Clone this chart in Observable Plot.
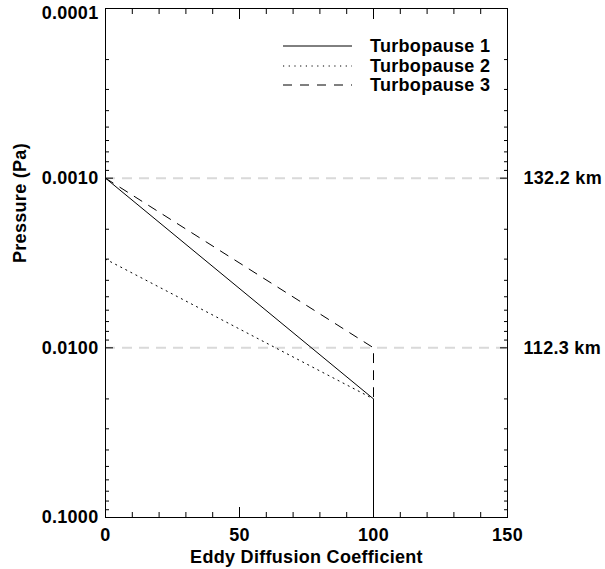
<!DOCTYPE html>
<html><head><meta charset="utf-8">
<script src="https://cdn.jsdelivr.net/npm/d3@7"></script>
<script src="https://cdn.jsdelivr.net/npm/@observablehq/plot@0.6"></script>
<style>
html,body{margin:0;padding:0;background:#fff;}
#wrap{position:relative;width:605px;height:569px;font-family:"Liberation Sans",Arial,Helvetica,sans-serif;font-weight:bold;}
#legend{position:absolute;left:0;top:0;pointer-events:none;}
</style></head><body><div id="wrap"></div>
<script>
// ---- data ----
const seriesNames = ["Turbopause 1", "Turbopause 2", "Turbopause 3"];
const coeff1 = [0, 100, 100];
const pres1 = [0.001, 0.02, 0.1];
const coeff2 = [0, 100, 100];
const pres2 = [0.003, 0.02, 0.1];
const coeff3 = [0, 100, 100];
const pres3 = [0.001, 0.01, 0.1];
const refPressures = [0.001, 0.01];
const refLabels = ["132.2 km", "112.3 km"];
const xMajorTicks = [0, 50, 100, 150];
const xMinorTicks = [10, 20, 30, 40, 60, 70, 80, 90, 110, 120, 130, 140];
const yMajorTicks = [0.0001, 0.001, 0.01, 0.1];
const yMajorLabels = ["0.0001", "0.0010", "0.0100", "0.1000"];
const yMinorTicks = [0.0002, 0.0003, 0.0004, 0.0005, 0.0006, 0.0007, 0.0008, 0.0009,
                     0.002, 0.003, 0.004, 0.005, 0.006, 0.007, 0.008, 0.009,
                     0.02, 0.03, 0.04, 0.05, 0.06, 0.07, 0.08, 0.09];
const xTitle = "Eddy Diffusion Coefficient";
const yTitle = "Pressure (Pa)";

// ---- build ----
const seriesData = [[coeff1, pres1], [coeff2, pres2], [coeff3, pres3]];
const rows = [];
seriesData.forEach(([c, p], i) => c.forEach((x, j) => rows.push({series: seriesNames[i], x, p: p[j]})));
const dashes = [null, "1.2,4.5", "9,8"];

const lineMarks = seriesNames.map((name, i) =>
  Plot.line(rows.filter(d => d.series === name), {x: "x", y: "p", stroke: "black", strokeWidth: 1, strokeDasharray: dashes[i]})
);
const yLabelMap = new Map(yMajorTicks.map((t, i) => [t, yMajorLabels[i]]));
const fontFam = '"Liberation Sans", Arial, Helvetica, sans-serif';

const plot = Plot.plot({
  width: 605, height: 569,
  marginLeft: 105, marginRight: 98, marginTop: 8, marginBottom: 52,
  style: {fontFamily: fontFam, fontWeight: "bold", fontSize: "18px", letterSpacing: "0.3px", color: "black", background: "white", overflow: "visible"},
  x: {domain: [0, 150]},
  y: {type: "log", domain: [1e-4, 1e-1], reverse: true},
  marks: [
    Plot.ruleY(refPressures, {stroke: "#d9d9d9", strokeWidth: 2, strokeDasharray: "10,7"}),
    ...lineMarks,
    Plot.frame({stroke: "black", strokeWidth: 1}),
    // x ticks (inward) bottom and top
    Plot.axisX(xMajorTicks, {anchor: "bottom", tickSize: -10, tickFormat: () => "", label: null}),
    Plot.axisX(xMinorTicks, {anchor: "bottom", tickSize: -5, tickFormat: () => "", label: null}),
    Plot.axisX(xMajorTicks, {anchor: "top", tickSize: -10, tickFormat: () => "", label: null}),
    Plot.axisX(xMinorTicks, {anchor: "top", tickSize: -5, tickFormat: () => "", label: null}),
    // x tick labels
    Plot.axisX(xMajorTicks, {anchor: "bottom", tickSize: 0, tickPadding: 11, tickFormat: d => String(d), label: null}),
    // y ticks (inward) left and right
    Plot.axisY(yMajorTicks, {anchor: "left", tickSize: -8, tickFormat: () => "", label: null}),
    Plot.axisY(yMinorTicks, {anchor: "left", tickSize: -4, tickFormat: () => "", label: null}),
    Plot.axisY(yMajorTicks, {anchor: "right", tickSize: -8, tickFormat: () => "", label: null}),
    Plot.axisY(yMinorTicks, {anchor: "right", tickSize: -4, tickFormat: () => "", label: null}),
    // y tick labels (top one nudged down like the reference)
    Plot.axisY(yMajorTicks.slice(1), {anchor: "left", tickSize: 0, tickPadding: 7, tickFormat: d => yLabelMap.get(d), label: null}),
    Plot.text(yMajorTicks.slice(0, 1), {x: () => 0, y: d => d, text: d => yLabelMap.get(d), textAnchor: "end", dx: -7, dy: 5, fill: "black"}),
    // reference altitude labels at right
    Plot.text(refPressures, {x: () => 150, y: d => d, text: (d, i) => refLabels[i], textAnchor: "start", dx: 16, fill: "black"}),
    // axis titles
    Plot.text([xTitle], {frameAnchor: "bottom", text: d => d, dy: 45, fill: "black"}),
    Plot.text([yTitle], {frameAnchor: "left", text: d => d, rotate: -90, dx: -85, fill: "black"})
  ]
});
document.getElementById("wrap").appendChild(plot);

// legend overlay
const leg = d3.select("#wrap").append("svg").attr("id", "legend").attr("width", 605).attr("height", 569);
const rowY = [46, 66, 85];
seriesNames.forEach((name, i) => {
  leg.append("line").attr("x1", 283).attr("x2", 352).attr("y1", rowY[i]).attr("y2", rowY[i])
    .attr("stroke", "black").attr("stroke-width", 1).attr("stroke-dasharray", dashes[i]);
  leg.append("text").attr("x", 370).attr("y", rowY[i]).attr("dy", "0.36em")
    .attr("font-family", fontFam).attr("font-weight", "bold").attr("letter-spacing", "0.3px")
    .attr("font-size", 18).text(name);
});
</script></body></html>
